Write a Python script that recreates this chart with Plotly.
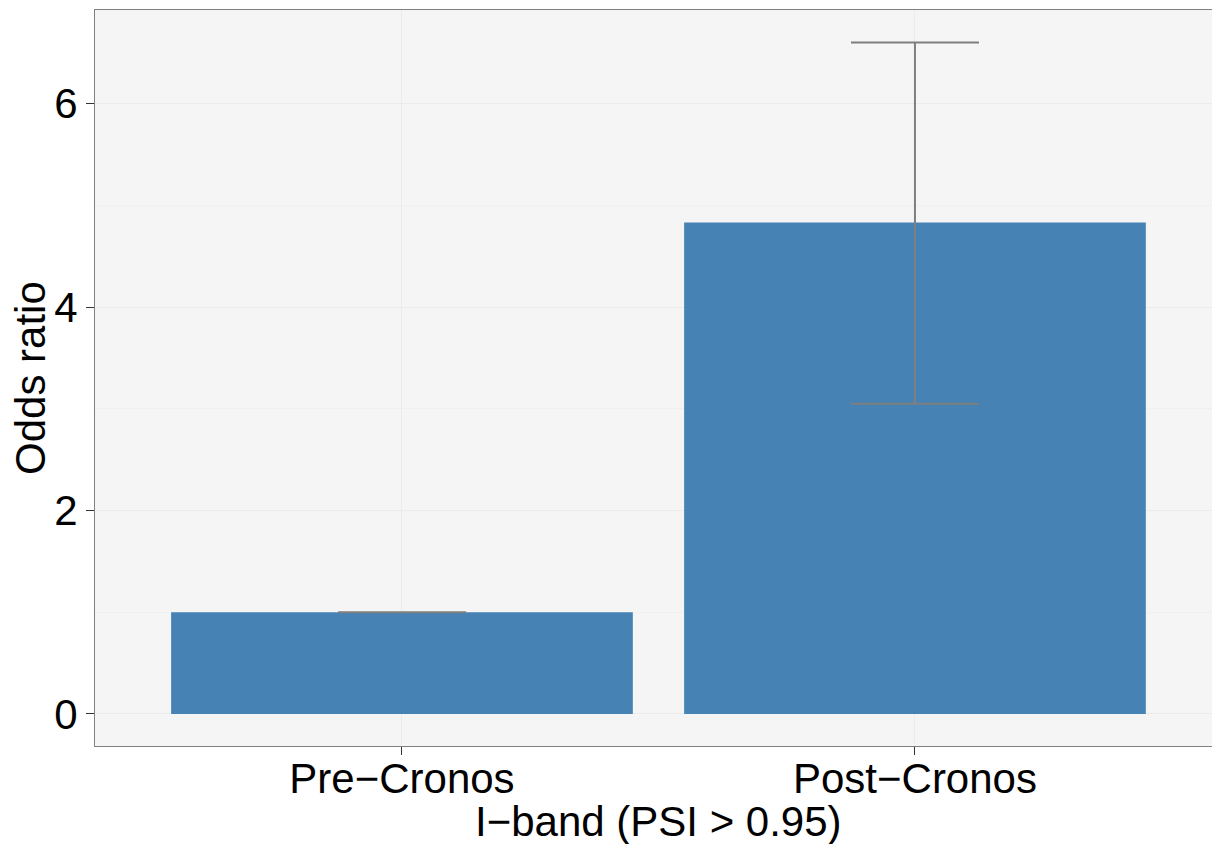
import plotly.graph_objects as go

categories = ["Pre\u2212Cronos", "Post\u2212Cronos"]
odds_ratio = [1.0, 4.83]
ci_lower = [1.0, 3.05]
ci_upper = [1.0, 6.60]

err_plus = [u - v for u, v in zip(ci_upper, odds_ratio)]
err_minus = [v - l for v, l in zip(odds_ratio, ci_lower)]

FONT = "Liberation Sans, Arial, sans-serif"
FS = 42

fig = go.Figure()
fig.add_trace(go.Bar(
    x=categories, y=odds_ratio, width=0.9,
    marker=dict(color="#4682B4", line=dict(width=0)),
    error_y=dict(type="data", array=err_plus, arrayminus=err_minus,
                 color="#7F7F7F", thickness=2, width=64, visible=True),
))

fig.update_layout(
    width=1212, height=844, autosize=False,
    margin=dict(l=95, r=0, t=10, b=98, autoexpand=False),
    paper_bgcolor="white", plot_bgcolor="#F5F5F5",
    showlegend=False,
    font=dict(family=FONT, size=FS, color="black"),
    xaxis=dict(
        type="category", range=[-0.5984, 1.579], automargin=False,
        showline=True, mirror=True, linecolor="#808080", linewidth=1,
        showgrid=True, gridcolor="#EBEBEB", gridwidth=1,
        ticks="outside", ticklen=8, tickcolor="#333333", tickwidth=1,
        tickfont=dict(size=FS, color="black"), ticklabelstandoff=-12,
        zeroline=False,
    ),
    yaxis=dict(
        range=[-0.315, 6.92], tickvals=[0, 2, 4, 6], automargin=False,
        showline=True, mirror=False, linecolor="#808080", linewidth=1,
        showgrid=True, gridcolor="#EBEBEB", gridwidth=1,
        minor=dict(tickvals=[1, 3, 5], showgrid=True, gridcolor="#F0F0F0", gridwidth=1, ticks=""),
        ticks="outside", ticklen=8, tickcolor="#333333", tickwidth=1,
        tickfont=dict(size=FS, color="black"),
        zeroline=False,
    ),
    annotations=[
        dict(text="I\u2212band (PSI > 0.95)", xref="x", yref="paper", x=0.5, y=0,
             yshift=-50, yanchor="top", showarrow=False, xanchor="center",
             font=dict(size=FS, color="black")),
        dict(text="Odds ratio", xref="paper", yref="paper", x=0, y=0.5,
             xshift=-65, textangle=-90, xanchor="center", yanchor="middle",
             showarrow=False, font=dict(size=FS, color="black")),
    ],
)

post = (
    "document.documentElement.style.margin='0';"
    "document.documentElement.style.overflow='hidden';"
    "document.body.style.margin='0';"
    "document.body.style.overflow='hidden';"
    "var gd=document.getElementById('{plot_id}');"
    "Plotly.relayout(gd,{width:1212,height:844});"
)
fig.write_html("out.html", config={"responsive": False, "displayModeBar": False}, post_script=post)
